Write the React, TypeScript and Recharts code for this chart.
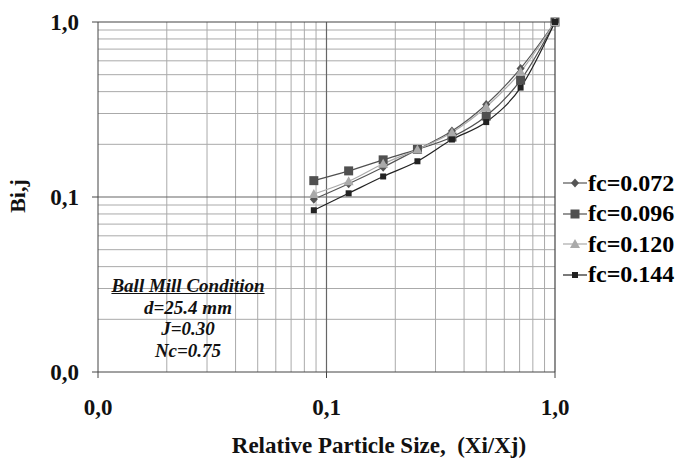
import React from 'react'
import { LineChart, Line, XAxis, YAxis, ReferenceLine, Legend, Label } from 'recharts'

const xValues = [0.088, 0.125, 0.177, 0.25, 0.354, 0.5, 0.707, 1]
const fc072 = [0.097, 0.119, 0.148, 0.187, 0.238, 0.338, 0.543, 1]
const fc096 = [0.124, 0.141, 0.163, 0.187, 0.22, 0.29, 0.465, 1]
const fc120 = [0.104, 0.123, 0.155, 0.187, 0.234, 0.327, 0.519, 1]
const fc144 = [0.084, 0.105, 0.131, 0.16, 0.213, 0.268, 0.422, 1]

const majorTicks = [0.01, 0.1, 1]
const minorGrid = [0.02, 0.03, 0.04, 0.05, 0.06, 0.07, 0.08, 0.09, 0.2, 0.3, 0.4, 0.5, 0.6, 0.7, 0.8, 0.9]
const tickText: Record<string, string> = { '0.01': '0,0', '0.1': '0,1', '1': '1,0' }

const seriesInfo = [
  { key: 'fc072', name: 'fc=0.072', color: '#555', shape: 'diamond' },
  { key: 'fc096', name: 'fc=0.096', color: '#505050', shape: 'square' },
  { key: 'fc120', name: 'fc=0.120', color: '#aaa', shape: 'triangle' },
  { key: 'fc144', name: 'fc=0.144', color: '#222', shape: 'small' },
]

const data = xValues.map((x, i) => ({ x, fc072: fc072[i], fc096: fc096[i], fc120: fc120[i], fc144: fc144[i] }))

const FONT = 'Liberation Serif'

function Marker({ shape, cx, cy, color }: { shape: string; cx: number; cy: number; color: string }) {
  if (shape === 'diamond')
    return <path d={`M${cx},${cy - 4.5}L${cx + 4},${cy}L${cx},${cy + 4.5}L${cx - 4},${cy}Z`} fill={color} />
  if (shape === 'square') return <rect x={cx - 4.5} y={cy - 4.5} width={9} height={9} fill={color} />
  if (shape === 'triangle')
    return <path d={`M${cx},${cy - 5}L${cx + 5},${cy + 4}L${cx - 5},${cy + 4}Z`} fill={color} />
  return <rect x={cx - 3} y={cy - 3} width={6} height={6} fill={color} />
}

function LegendBox() {
  return (
    <div style={{ fontFamily: FONT, fontWeight: 'bold', fontSize: 24 }}>
      {seriesInfo.map(s => (
        <div key={s.key} style={{ display: 'flex', alignItems: 'center', height: 30.5 }}>
          <svg width={26} height={20}>
            <line x1={1} y1={10} x2={25} y2={10} stroke={s.color} strokeWidth={1.2} />
            <Marker shape={s.shape} cx={13} cy={10} color={s.color} />
          </svg>
          <span style={{ marginLeft: 0 }}>{s.name}</span>
        </div>
      ))}
    </div>
  )
}

export default function App() {
  const tickStyle = { fontSize: 23, fontWeight: 'bold', fill: '#111', fontFamily: FONT }
  return (
    <div style={{ position: 'absolute', left: 0, top: 0, width: 678, height: 459, background: '#fff', fontFamily: FONT }}>
      <LineChart width={678} height={459} data={data} margin={{ top: 22, right: 123, left: 0, bottom: 0 }}>
        {minorGrid.map(v => (
          <ReferenceLine key={'vx' + v} x={v} stroke="#aaa" strokeWidth={1} />
        ))}
        {minorGrid.map(v => (
          <ReferenceLine key={'hy' + v} y={v} stroke="#aaa" strokeWidth={1} />
        ))}
        <ReferenceLine x={0.1} stroke="#666" strokeWidth={1.2} />
        <ReferenceLine y={0.1} stroke="#666" strokeWidth={1.2} />
        <ReferenceLine x={1} stroke="#444" strokeWidth={1.2} />
        <ReferenceLine y={1} stroke="#444" strokeWidth={1.2} />
        <XAxis
          dataKey="x"
          type="number"
          scale="log"
          domain={[0.01, 1]}
          ticks={majorTicks}
          tickFormatter={v => tickText[String(v)]}
          height={87}
          tickSize={6}
          tickMargin={21}
          stroke="#444"
          tick={tickStyle}
        >
          <Label
            content={() => (
              <text x={379} y={453} textAnchor="middle" fontFamily={FONT} fontWeight="bold" fontSize={23} fill="#111">
                {'Relative Particle Size,\u00a0 (Xi/Xj)'}
              </text>
            )}
          />
        </XAxis>
        <YAxis
          type="number"
          scale="log"
          domain={[0.01, 1]}
          ticks={majorTicks}
          tickFormatter={v => tickText[String(v)]}
          width={98}
          tickSize={6}
          tickMargin={13}
          stroke="#444"
          tick={tickStyle}
        >
          <Label
            content={() => (
              <text x={25} y={196} transform="rotate(-90 25 196)" textAnchor="middle" fontFamily={FONT} fontWeight="bold" fontSize={22} fill="#111">
                Bi,j
              </text>
            )}
          />
        </YAxis>
        {seriesInfo.map(s => (
          <Line
            key={s.key}
            dataKey={s.key}
            name={s.name}
            type="monotone"
            stroke={s.color}
            strokeWidth={1.2}
            isAnimationActive={false}
            dot={(p: any) => <Marker key={s.key + p.index} shape={s.shape} cx={p.cx} cy={p.cy} color={s.color} />}
            activeDot={false}
          />
        ))}
        <Legend
          layout="vertical"
          align="center"
          verticalAlign="middle"
          wrapperStyle={{ left: 562, top: 168, width: 116 }}
          content={() => <LegendBox />}
        />
      </LineChart>
      <div
        style={{
          position: 'absolute',
          left: 98,
          top: 275,
          width: 180,
          textAlign: 'center',
          fontFamily: FONT,
          fontWeight: 'bold',
          fontStyle: 'italic',
          fontSize: 19,
          lineHeight: '21.5px',
          color: '#111',
        }}
      >
        <div style={{ textDecoration: 'underline' }}>Ball Mill Condition</div>
        <div>d=25.4 mm</div>
        <div>J=0.30</div>
        <div>Nc=0.75</div>
      </div>
    </div>
  )
}
